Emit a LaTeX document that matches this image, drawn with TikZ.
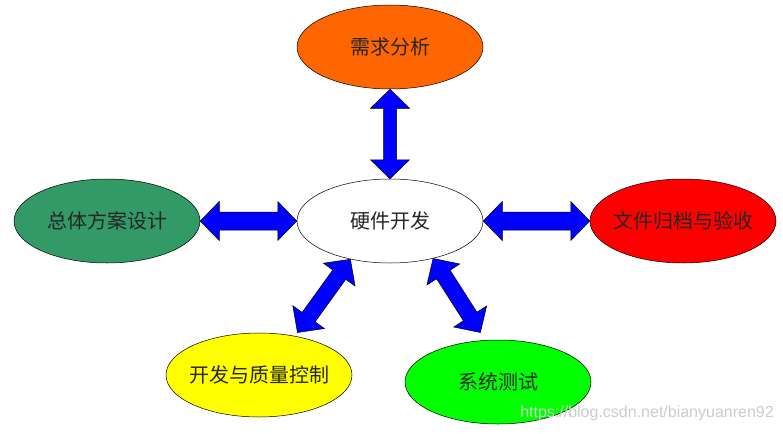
\documentclass[tikz,border=0pt]{standalone}
\usepackage{fontspec}
\setmainfont{Liberation Sans}
\newfontfamily\cjk{Noto Sans CJK SC}
\usepackage{tikz}
\usetikzlibrary{calc,shapes.geometric}
\definecolor{needorange}{RGB}{255,102,0}
\definecolor{plangreen}{RGB}{51,153,102}
\definecolor{docred}{RGB}{255,0,0}
\definecolor{devyellow}{RGB}{255,255,0}
\definecolor{testgreen}{RGB}{0,255,0}
\definecolor{arrowblue}{RGB}{0,0,255}
% block double arrow between two points, #3 = half width of the shaft
\newcommand\blockarrow[3]{%
  \coordinate (ta) at (#1);
  \coordinate (tb) at (#2);
  \coordinate (hp) at ($(ta)!19pt!(tb)$);
  \coordinate (hq) at ($(tb)!19pt!(ta)$);
  \draw[arrowbody] (ta) -- ($(hp)!19.5pt!90:(tb)$) -- ($(hp)!#3!90:(tb)$)
    -- ($(hq)!#3!-90:(ta)$) -- ($(hq)!19.5pt!-90:(ta)$) -- (tb)
    -- ($(hq)!19.5pt!90:(ta)$) -- ($(hq)!#3!90:(ta)$)
    -- ($(hp)!#3!-90:(tb)$) -- ($(hp)!19.5pt!-90:(tb)$) -- cycle;
}
\begin{document}
\begin{tikzpicture}[x=1pt,y=-1pt,
    task/.style={draw=black,line width=0.5pt,ellipse,minimum width=186pt,minimum height=84pt,
      inner xsep=-15pt,inner ysep=0pt,font=\cjk\fontsize{20}{20}\selectfont,text=black!85},
    arrowbody/.style={draw=black,line width=0.5pt,fill=arrowblue,line join=miter}]
  \useasboundingbox[fill=white] (0,0) rectangle (783,433);
  % the six work stages
  \node[task,fill=needorange] (need) at (390,47) {需求分析};
  \node[task,fill=white] (core) at (390,221) {硬件开发};
  \node[task,fill=plangreen] (plan) at (107,221) {总体方案设计};
  \node[task,fill=docred] (doc) at (683,221) {文件归档与验收};
  \node[task,fill=devyellow] (dev) at (259,375) {开发与质量控制};
  \node[task,fill=testgreen] (test) at (498,382) {系统测试};
  % links
  \blockarrow{need.south}{core.north}{6.5pt}
  \blockarrow{plan.east}{core.west}{9pt}
  \blockarrow{core.east}{doc.west}{9pt}
  \blockarrow{core.-136}{[yshift=4pt]dev.45}{8pt}
  \blockarrow{core.-41}{[yshift=8pt]test.113}{8pt}
  \node[text=gray!40,font=\fontsize{16}{16}\selectfont] (mark) at (647,413) {https://blog.csdn.net/bianyuanren92};
\end{tikzpicture}
\end{document}
